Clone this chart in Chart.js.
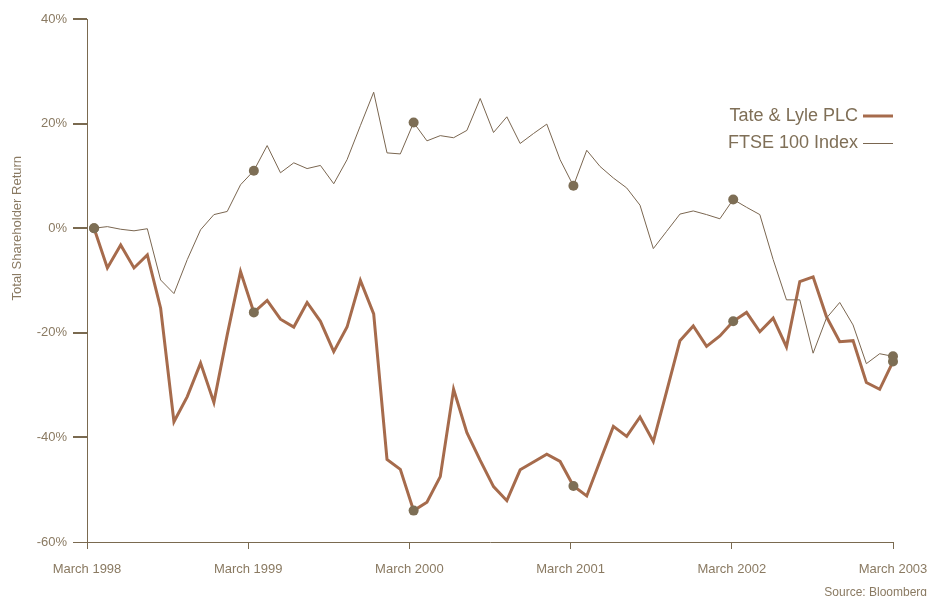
<!DOCTYPE html>
<html>
<head>
<meta charset="utf-8">
<script src="https://cdn.jsdelivr.net/npm/chart.js@4"></script>
<style>
  html, body { margin: 0; padding: 0; background: #ffffff; }
  #wrap { width: 928px; height: 596px; }
</style>
</head>
<body>
<div id="wrap"><canvas id="tsrChart" width="928" height="596"></canvas></div>
<script>
// monthly total shareholder return, March 1998 .. March 2003 (index 0..60)
const yearLabels = ['March 1998', 'March 1999', 'March 2000', 'March 2001', 'March 2002', 'March 2003'];
const tateLyle = [
  0, -7.6, -3.2, -7.6, -5.1, -15.3, -37.0, -32.2, -25.8, -33.3, -20.4, -8.3,
  -16.1, -13.8, -17.4, -18.9, -14.2, -17.8, -23.6, -18.9, -10.0, -16.4, -44.2, -46.1,
  -54.0, -52.4, -47.5, -30.8, -39.1, -44.4, -49.4, -52.1, -46.2, -44.7, -43.2, -44.6,
  -49.3, -51.2, -44.5, -37.9, -39.8, -36.1, -40.8, -31.2, -21.5, -18.7, -22.6, -20.6,
  -17.8, -16.1, -19.8, -17.2, -22.7, -10.2, -9.3, -16.9, -21.7, -21.5, -29.5, -30.8,
  -25.5
];
const ftse100 = [
  0, 0.3, -0.2, -0.5, -0.1, -9.9, -12.5, -6.0, -0.3, 2.6, 3.2, 8.3,
  11.0, 15.8, 10.6, 12.5, 11.4, 12.0, 8.5, 13.1, 19.6, 26.0, 14.4, 14.2,
  20.2, 16.7, 17.7, 17.3, 18.7, 24.8, 18.3, 21.3, 16.2, 18.1, 19.9, 13.1,
  8.1, 14.9, 11.8, 9.6, 7.7, 4.4, -3.9, -0.6, 2.7, 3.3, 2.6, 1.8,
  5.5, 4.0, 2.6, -6.0, -13.7, -13.7, -23.9, -17.2, -14.2, -18.5, -25.9, -24.0,
  -24.5
];
const seriesNames = ['Tate & Lyle PLC', 'FTSE 100 Index'];

const tateColor = '#a66b4c';
const ftseColor = '#7a6650';
const dotColor = '#7d6e55';
const textColor = '#8a7a62';
const axisColor = '#7a6a50';
const fontFamily = '"Liberation Sans", Arial, Helvetica, sans-serif';

function toPoints(arr) {
  return arr.map((v, i) => ({ x: i, y: v }));
}
// dots only on the March points
function dotRadius(ctx) {
  return ctx.dataIndex % 12 === 0 ? 5 : 0;
}

const extras = {
  id: 'extras',
  afterDraw(chart) {
    const c = chart.ctx;
    c.save();
    // legend, top right
    c.font = '18px ' + fontFamily;
    c.fillStyle = '#7f6f57';
    c.textAlign = 'right';
    c.textBaseline = 'middle';
    c.fillText(seriesNames[0], 858, 116);
    c.fillText(seriesNames[1], 858, 143);
    c.strokeStyle = tateColor;
    c.lineWidth = 3;
    c.beginPath(); c.moveTo(863, 116); c.lineTo(893, 116); c.stroke();
    c.strokeStyle = ftseColor;
    c.lineWidth = 1;
    c.beginPath(); c.moveTo(863, 143.5); c.lineTo(893, 143.5); c.stroke();
    // source note
    c.font = '12px ' + fontFamily;
    c.fillStyle = textColor;
    c.textBaseline = 'alphabetic';
    c.fillText('Source: Bloomberg', 927, 596);
    // y axis title, centred on the 0% line
    c.translate(17, chart.scales.y.getPixelForValue(0));
    c.rotate(-Math.PI / 2);
    c.textAlign = 'center';
    c.textBaseline = 'middle';
    c.font = '13px ' + fontFamily;
    c.fillText('Total Shareholder Return', 0, 0);
    c.restore();
  }
};

new Chart(document.getElementById('tsrChart'), {
  type: 'line',
  data: {
    datasets: [
      {
        label: seriesNames[1],
        data: toPoints(ftse100),
        xAxisID: 'xd',
        borderColor: ftseColor,
        borderWidth: 1,
        pointRadius: dotRadius,
        pointBackgroundColor: dotColor,
        pointBorderWidth: 0,
        tension: 0,
        clip: false
      },
      {
        label: seriesNames[0],
        data: toPoints(tateLyle),
        xAxisID: 'xd',
        borderColor: tateColor,
        borderWidth: 3,
        pointRadius: dotRadius,
        pointBackgroundColor: dotColor,
        pointBorderWidth: 0,
        tension: 0,
        clip: false
      }
    ]
  },
  options: {
    responsive: false,
    animation: false,
    layout: { padding: { top: 19, right: 35, left: 0, bottom: 0 } },
    plugins: {
      legend: { display: false },
      tooltip: { enabled: false }
    },
    scales: {
      xd: {
        type: 'linear',
        display: false,
        min: -0.53,
        max: 60
      },
      x: {
        type: 'linear',
        position: 'bottom',
        min: 0,
        max: 5,
        afterBuildTicks: (axis) => { axis.ticks = [0, 1, 2, 3, 4, 5].map(v => ({ value: v })); },
        afterFit: (axis) => {
          axis.height = 54;
          axis.paddingLeft = 0;
          axis.paddingRight = 0;
        },
        border: { color: axisColor, width: 1 },
        grid: { drawOnChartArea: false, tickLength: 7, color: axisColor, lineWidth: 1 },
        ticks: {
          color: textColor,
          font: { family: fontFamily, size: 13 },
          padding: 13,
          maxRotation: 0,
          autoSkip: false,
          callback: (v) => yearLabels[v]
        }
      },
      y: {
        min: -60,
        max: 40,
        afterBuildTicks: (axis) => { axis.ticks = [-60, -40, -20, 0, 20, 40].map(v => ({ value: v })); },
        afterFit: (axis) => { axis.width = 87; },
        border: { color: axisColor, width: 1 },
        grid: {
          drawOnChartArea: false,
          tickLength: 14,
          color: axisColor,
          lineWidth: (ctx) => (ctx.tick && ctx.tick.value === -60 ? 1 : 2)
        },
        ticks: {
          color: textColor,
          font: { family: fontFamily, size: 13 },
          padding: 6,
          callback: (v) => v + '%'
        }
      }
    }
  },
  plugins: [extras]
});
</script>
</body>
</html>
